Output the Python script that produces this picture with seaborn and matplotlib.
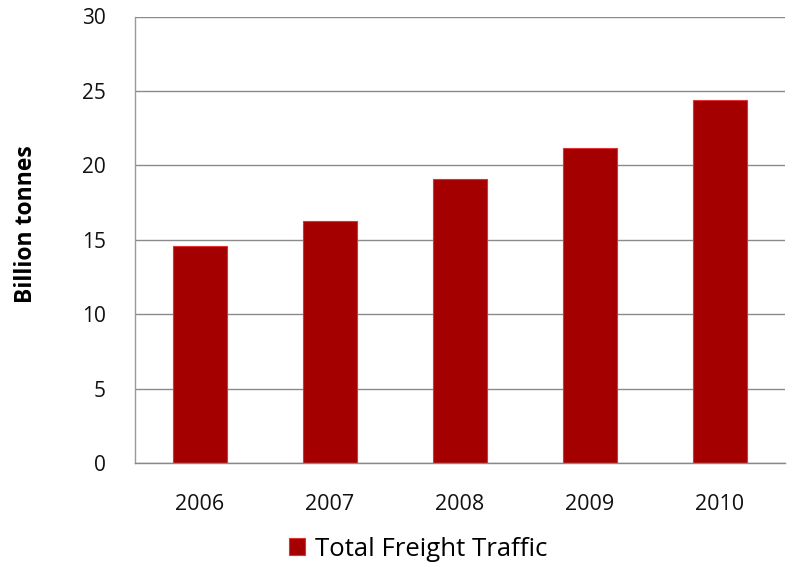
import matplotlib
matplotlib.use("Agg")
import matplotlib.pyplot as plt
import seaborn as sns
import pandas as pd
from matplotlib.patches import Patch

years = ["2006", "2007", "2008", "2009", "2010"]
values = [14.6, 16.3, 19.1, 21.2, 24.4]
series_name = "Total Freight Traffic"
yticks = [0, 5, 10, 15, 20, 25, 30]

sns.set_theme(style="white")
plt.rcParams['font.family'] = ['Open Sans', 'DejaVu Sans']

df = pd.DataFrame({"Year": years, "Value": values})

fig = plt.figure(figsize=(7.95, 5.67), dpi=100)
ax = fig.add_axes([135/795, 1-463.3/567, 650/795, (463.3-16.5)/567])

bar_color = "#A50000"
sns.barplot(data=df, x="Year", y="Value", color=bar_color, width=0.41,
            edgecolor="#E03030", linewidth=0.8, saturation=1, ax=ax)

ax.set_ylim(0, 30)
ax.set_xlim(-0.5, len(years) - 0.5)
ax.set_yticks(yticks)
ax.set_yticklabels([str(t) for t in yticks], fontsize=15, color="#111111")
ax.set_xticks(range(len(years)))
ax.set_xticklabels(years, fontsize=15.5, color="#111111")
ax.tick_params(axis="x", which="major", length=0, pad=22)
ax.set_xticks([i - 0.5 for i in range(len(years) + 1)], minor=True)
ax.tick_params(axis="x", which="minor", length=6, color="#888888", width=1, direction="out")
ax.tick_params(axis="y", length=6, color="#888888", width=1, direction="out", pad=15)

ax.yaxis.grid(True, color="#8a8a8a", linewidth=1)
ax.set_axisbelow(True)
for s in ["top", "right"]:
    ax.spines[s].set_visible(False)
ax.spines["left"].set_color("#999999")
ax.spines["bottom"].set_color("#888888")
ax.spines["left"].set_linewidth(1)
ax.spines["bottom"].set_linewidth(1)

ax.set_xlabel("")
ax.set_ylabel("Billion tonnes", fontsize=16.5, fontweight="bold", color="#000000")
ax.yaxis.set_label_coords((38 - 135) / 650, (463.3 - 224) / 446.8)

handle = Patch(facecolor=bar_color, edgecolor="#E03030", linewidth=0.8)
fig.legend([handle], [series_name], loc="center", bbox_to_anchor=(418.5/795, 1-549/567),
           frameon=False, fontsize=18.5, handlelength=0.62, handleheight=0.62,
           handletextpad=0.4, labelcolor="#000000")

fig.savefig("out.png", dpi=100, facecolor="white")
